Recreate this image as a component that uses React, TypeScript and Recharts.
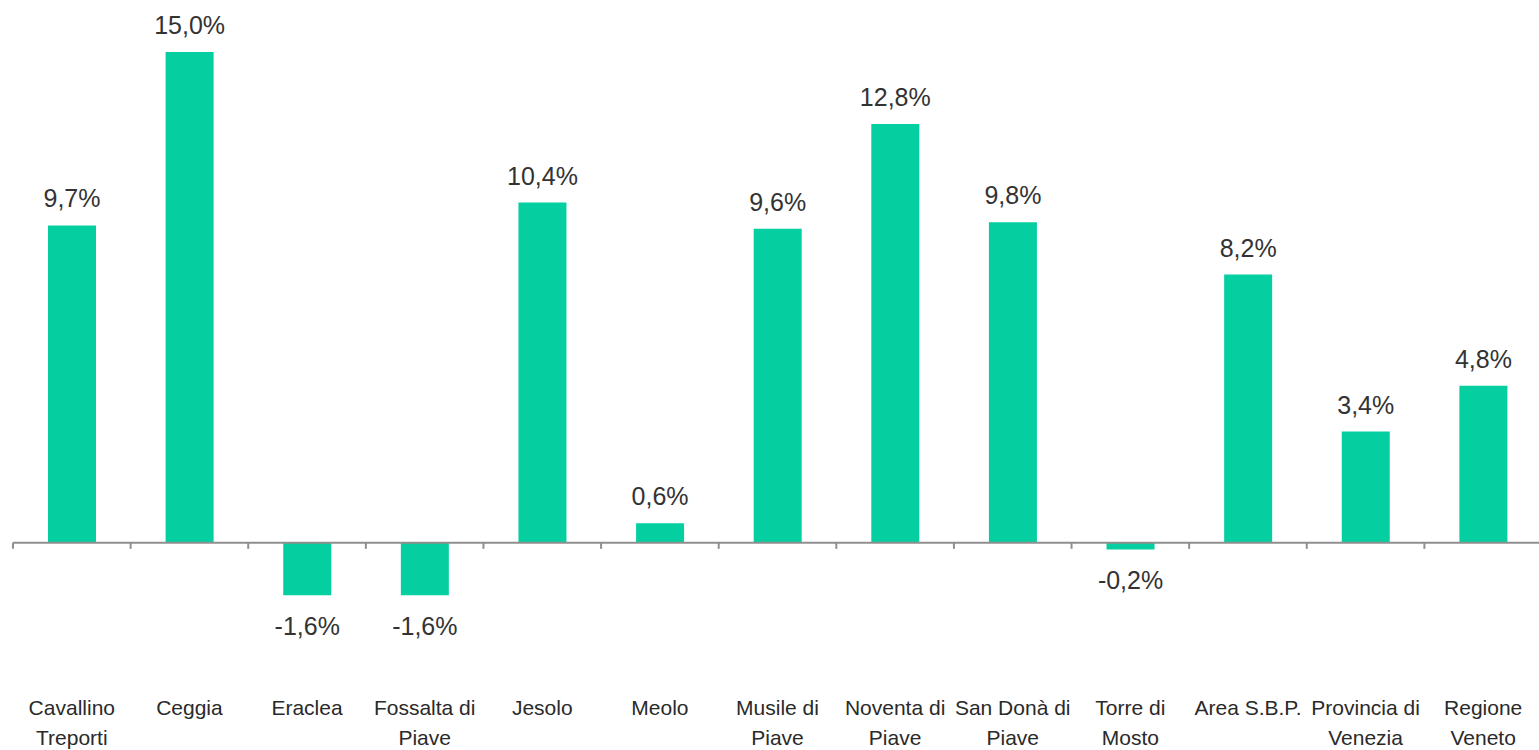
import React from "react";
import { BarChart, Bar, XAxis, YAxis, LabelList, ReferenceLine } from "recharts";

const categories = [
  "Cavallino\nTreporti",
  "Ceggia",
  "Eraclea",
  "Fossalta di\nPiave",
  "Jesolo",
  "Meolo",
  "Musile di\nPiave",
  "Noventa di\nPiave",
  "San Donà di\nPiave",
  "Torre di\nMosto",
  "Area S.B.P.",
  "Provincia di\nVenezia",
  "Regione\nVeneto",
];

const values = [9.7, 15.0, -1.6, -1.6, 10.4, 0.6, 9.6, 12.8, 9.8, -0.2, 8.2, 3.4, 4.8];

const data = categories.map((name, i) => ({ name, value: values[i] }));

const FONT = "'Liberation Sans', Arial, sans-serif";
const BAR_COLOR = "#05CFA0";
const AXIS_COLOR = "#8f8f8f";

const fmt = (v: number) => v.toFixed(1).replace(".", ",") + "%";

// category labels, split on newline
const CategoryTick = (props: any) => {
  const { x, y, payload } = props;
  const lines = String(payload.value).split("\n");
  return (
    <text
      x={x}
      y={y + 74}
      textAnchor="middle"
      fontFamily={FONT}
      fontSize={21}
      fill="#2a2a2a"
    >
      {lines.map((l, i) => (
        <tspan key={i} x={x} dy={i === 0 ? 0 : 30}>
          {l}
        </tspan>
      ))}
    </text>
  );
};

// value label: above positive bars, below negative ones
const ValueLabel = (props: any) => {
  const { x, y, width, height, value } = props;
  const top = Math.min(y, y + height);
  const bottom = Math.max(y, y + height);
  const ty = value >= 0 ? top - 18 : bottom + 40;
  return (
    <text
      x={x + width / 2}
      y={ty}
      textAnchor="middle"
      fontFamily={FONT}
      fontSize={25}
      fill="#333"
    >
      {fmt(value)}
    </text>
  );
};

// zero line with tick marks on category boundaries
const ZeroAxis = (props: any) => {
  const { x1, y1, x2 } = props;
  const band = (x2 - x1) / categories.length;
  const ticks = [];
  for (let i = 0; i <= categories.length; i++) {
    const tx = x1 + i * band;
    ticks.push(<line key={i} x1={tx} x2={tx} y1={y1} y2={y1 + 6} stroke={AXIS_COLOR} strokeWidth={2} />);
  }
  return (
    <g>
      <line x1={x1} x2={x2} y1={y1} y2={y1} stroke={AXIS_COLOR} strokeWidth={2} />
      {ticks}
    </g>
  );
};

export default function App() {
  return (
    <div style={{ position: "fixed", left: 0, top: 0, width: 1539, height: 750, overflow: "hidden", background: "#fff" }}>
      <BarChart
        width={1542}
        height={750}
        data={data}
        margin={{ top: 3, right: 0, bottom: 0, left: 13 }}
      >
        <XAxis
          dataKey="name"
          height={109}
          axisLine={false}
          tickLine={false}
          tickSize={0}
          tickMargin={0}
          interval={0}
          tick={<CategoryTick />}
        />
        <YAxis hide domain={[-3, 16.5]} />
        <Bar dataKey="value" fill={BAR_COLOR} barSize={48} isAnimationActive={false}>
          <LabelList dataKey="value" content={<ValueLabel />} />
        </Bar>
        <ReferenceLine y={0} shape={<ZeroAxis />} />
      </BarChart>
    </div>
  );
}
